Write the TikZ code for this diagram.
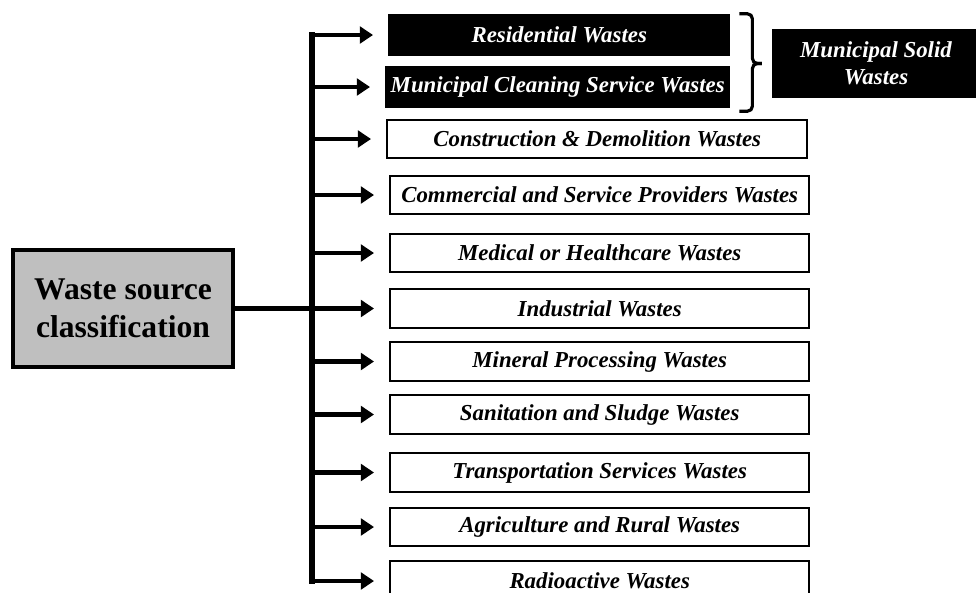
\documentclass[tikz,border=0pt]{standalone}
\usepackage{fontspec}
\setmainfont{Liberation Serif}
\usetikzlibrary{positioning,arrows.meta}
\definecolor{rootgray}{HTML}{BFBFBF}
\tikzset{
  root/.style={draw,line width=2.2pt,fill=rootgray,minimum width=4.4cm,minimum height=2.34cm,inner sep=0,
               align=center,font=\fontsize{18}{21.6}\selectfont\bfseries},
  src/.style={draw,line width=1.4pt,fill=white,anchor=west,minimum width=8.38cm,minimum height=0.77cm,inner sep=0,
              font=\fontsize{13}{15.6}\selectfont\bfseries\itshape},
  % municipal sources are black boxes with white text
  msw/.style={src,fill=black,text=white},
  branch/.style={line width=2.8pt,-{Triangle[length=7.5pt,width=9.5pt]},shorten >=0.3cm},
  trunk/.style={line width=3.4pt,line cap=rect},
  bracket/.style={line width=1.8pt,rounded corners=0.1cm},
}
\begin{document}
\begin{tikzpicture}[x=0.02cm,y=-0.02cm]
  \useasboundingbox (0,0) rectangle (976,592);
  \node[root] (root) at (123,308.5) {Waste source\\classification};
  % municipal solid wastes
  \node[msw,minimum width=6.8cm,minimum height=0.8cm] (resid) at (388,35) {Residential Wastes};
  \node[msw,minimum width=6.86cm,minimum height=0.8cm] (muncl) at (385,87) {Municipal Cleaning Service Wastes};
  \node[msw,anchor=center,minimum width=4.12cm,minimum height=1.34cm,align=center] (msolid) at (876,63.5) {Municipal Solid\\Wastes};
  % square brace grouping the two black boxes
  \coordinate (btop) at ([xshift=0.18cm]resid.north east);
  \coordinate (bbot) at ([xshift=0.18cm,yshift=-0.06cm]muncl.south east);
  \coordinate (btip) at ([xshift=-0.2cm]msolid.west);
  \draw[bracket] (btop) -- ++(13,0) |- (btip);
  \draw[bracket] (bbot) -- ++(13,0) |- (btip);
  % the other sources
  \node[src,minimum width=8.4cm] (constr) at (386,139) {Construction \& Demolition Wastes};
  \node[src] (comm) at (389,195) {Commercial and Service Providers Wastes};
  \node[src] (med) at (389,253) {Medical or Healthcare Wastes};
  \node[src] (indus) at (389,308.5) {Industrial Wastes};
  \node[src] (miner) at (389,361.5) {Mineral Processing Wastes};
  \node[src] (sanit) at (389,414.5) {Sanitation and Sludge Wastes};
  \node[src] (transp) at (389,472.5) {Transportation Services Wastes};
  \node[src] (agri) at (389,527) {Agriculture and Rural Wastes};
  \node[src,minimum height=0.8cm] (radio) at (389,581) {Radioactive Wastes};
  % trunk and branches
  \coordinate (tr) at (312,0);
  \draw[trunk] (tr |- resid.west) -- (tr |- radio.west);
  \draw[branch] (root.east) -- (indus.west);
  \draw[branch] (tr |- resid.west) -- (resid.west);
  \draw[branch] (tr |- muncl.west) -- (muncl.west);
  \draw[branch] (tr |- constr.west) -- (constr.west);
  \draw[branch] (tr |- comm.west) -- (comm.west);
  \draw[branch] (tr |- med.west) -- (med.west);
  \draw[branch] (tr |- miner.west) -- (miner.west);
  \draw[branch] (tr |- sanit.west) -- (sanit.west);
  \draw[branch] (tr |- transp.west) -- (transp.west);
  \draw[branch] (tr |- agri.west) -- (agri.west);
  \draw[branch] (tr |- radio.west) -- (radio.west);
\end{tikzpicture}
\end{document}
